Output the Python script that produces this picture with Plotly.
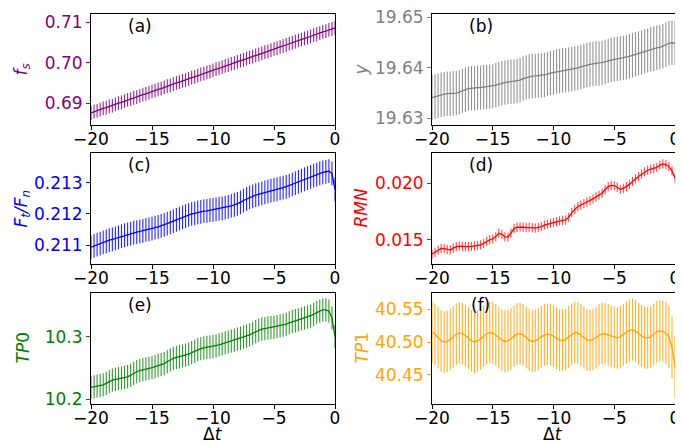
import plotly.graph_objects as go

# ---------------- data ----------------
dt = [-20.0, -19.75, -19.5, -19.25, -19.0, -18.75, -18.5, -18.25,
      -18.0, -17.75, -17.5, -17.25, -17.0, -16.75, -16.5, -16.25,
      -16.0, -15.75, -15.5, -15.25, -15.0, -14.75, -14.5, -14.25,
      -14.0, -13.75, -13.5, -13.25, -13.0, -12.75, -12.5, -12.25,
      -12.0, -11.75, -11.5, -11.25, -11.0, -10.75, -10.5, -10.25,
      -10.0, -9.75, -9.5, -9.25, -9.0, -8.75, -8.5, -8.25,
      -8.0, -7.75, -7.5, -7.25, -7.0, -6.75, -6.5, -6.25,
      -6.0, -5.75, -5.5, -5.25, -5.0, -4.75, -4.5, -4.25,
      -4.0, -3.75, -3.5, -3.25, -3.0, -2.75, -2.5, -2.25,
      -2.0, -1.75, -1.5, -1.25, -1.0, -0.75, -0.5, -0.25, 0.0]

fs = [0.6876, 0.6879, 0.6881, 0.6884, 0.6887, 0.6889, 0.6892, 0.6894,
      0.6897, 0.6900, 0.6902, 0.6905, 0.6908, 0.6910, 0.6913, 0.6915,
      0.6918, 0.6921, 0.6923, 0.6926, 0.6929, 0.6931, 0.6934, 0.6936,
      0.6939, 0.6942, 0.6944, 0.6947, 0.6950, 0.6952, 0.6955, 0.6957,
      0.6960, 0.6963, 0.6965, 0.6968, 0.6971, 0.6973, 0.6976, 0.6978,
      0.6981, 0.6984, 0.6986, 0.6989, 0.6992, 0.6994, 0.6997, 0.6999,
      0.7002, 0.7005, 0.7007, 0.7010, 0.7013, 0.7015, 0.7018, 0.7020,
      0.7023, 0.7026, 0.7028, 0.7031, 0.7034, 0.7036, 0.7039, 0.7041,
      0.7044, 0.7047, 0.7049, 0.7052, 0.7055, 0.7057, 0.7060, 0.7062,
      0.7065, 0.7068, 0.7070, 0.7073, 0.7076, 0.7078, 0.7081, 0.7083, 0.7086]

yv = [19.6341, 19.6343, 19.6345, 19.6347, 19.6348, 19.6349, 19.6349, 19.6350,
      19.6350, 19.6352, 19.6355, 19.6357, 19.6359, 19.6360, 19.6360, 19.6361,
      19.6361, 19.6362, 19.6362, 19.6363, 19.6364, 19.6366, 19.6368, 19.6370,
      19.6371, 19.6372, 19.6373, 19.6373, 19.6374, 19.6376, 19.6379, 19.6381,
      19.6383, 19.6384, 19.6384, 19.6385, 19.6385, 19.6386, 19.6388, 19.6390,
      19.6391, 19.6393, 19.6394, 19.6395, 19.6396, 19.6397, 19.6398, 19.6399,
      19.6400, 19.6402, 19.6404, 19.6406, 19.6407, 19.6408, 19.6409, 19.6409,
      19.6410, 19.6412, 19.6414, 19.6416, 19.6417, 19.6418, 19.6419, 19.6420,
      19.6421, 19.6423, 19.6425, 19.6427, 19.6429, 19.6431, 19.6433, 19.6435,
      19.6437, 19.6438, 19.6440, 19.6441, 19.6443, 19.6446, 19.6449, 19.6450, 19.6449]

ftfn = [0.21094, 0.21098, 0.21102, 0.21105, 0.21109, 0.21112, 0.21116, 0.21119,
        0.21122, 0.21125, 0.21129, 0.21132, 0.21135, 0.21137, 0.21140, 0.21142,
        0.21144, 0.21146, 0.21149, 0.21151, 0.21153, 0.21156, 0.21159, 0.21162,
        0.21165, 0.21169, 0.21173, 0.21177, 0.21181, 0.21185, 0.21189, 0.21193,
        0.21197, 0.21200, 0.21202, 0.21205, 0.21207, 0.21209, 0.21210, 0.21212,
        0.21213, 0.21215, 0.21217, 0.21218, 0.21220, 0.21223, 0.21226, 0.21229,
        0.21232, 0.21237, 0.21243, 0.21248, 0.21253, 0.21256, 0.21260, 0.21263,
        0.21266, 0.21269, 0.21272, 0.21275, 0.21277, 0.21279, 0.21282, 0.21284,
        0.21287, 0.21291, 0.21295, 0.21299, 0.21303, 0.21307, 0.21311, 0.21315,
        0.21319, 0.21323, 0.21326, 0.21330, 0.21333, 0.21335, 0.21337, 0.21330, 0.21278]

rmn = [0.01376, 0.01390, 0.01410, 0.01425, 0.01424, 0.01415, 0.01412, 0.01428,
       0.01441, 0.01445, 0.01443, 0.01440, 0.01441, 0.01443, 0.01447, 0.01450,
       0.01456, 0.01470, 0.01490, 0.01502, 0.01509, 0.01530, 0.01560, 0.01550,
       0.01528, 0.01525, 0.01560, 0.01600, 0.01612, 0.01615, 0.01612, 0.01610,
       0.01612, 0.01608, 0.01605, 0.01610, 0.01618, 0.01630, 0.01640, 0.01648,
       0.01653, 0.01660, 0.01668, 0.01672, 0.01676, 0.01700, 0.01741, 0.01770,
       0.01794, 0.01808, 0.01820, 0.01835, 0.01847, 0.01862, 0.01880, 0.01896,
       0.01912, 0.01945, 0.01971, 0.01982, 0.01980, 0.01965, 0.01947, 0.01955,
       0.01971, 0.01990, 0.02015, 0.02040, 0.02059, 0.02080, 0.02100, 0.02115,
       0.02124, 0.02130, 0.02140, 0.02160, 0.02171, 0.02165, 0.02147, 0.02110, 0.02044]

tp0 = [10.2190, 10.2200, 10.2210, 10.2220, 10.2230, 10.2255, 10.2285, 10.2305,
       10.2320, 10.2330, 10.2340, 10.2350, 10.2360, 10.2385, 10.2415, 10.2440,
       10.2460, 10.2475, 10.2485, 10.2495, 10.2505, 10.2520, 10.2540, 10.2555,
       10.2570, 10.2600, 10.2630, 10.2655, 10.2670, 10.2680, 10.2695, 10.2705,
       10.2720, 10.2745, 10.2770, 10.2795, 10.2810, 10.2820, 10.2830, 10.2835,
       10.2840, 10.2855, 10.2870, 10.2885, 10.2900, 10.2915, 10.2930, 10.2945,
       10.2960, 10.2975, 10.2995, 10.3010, 10.3030, 10.3055, 10.3080, 10.3105,
       10.3120, 10.3130, 10.3140, 10.3145, 10.3150, 10.3160, 10.3175, 10.3185,
       10.3200, 10.3220, 10.3240, 10.3255, 10.3270, 10.3285, 10.3300, 10.3315,
       10.3330, 10.3355, 10.3385, 10.3410, 10.3430, 10.3430, 10.3410, 10.3300, 10.3000]

tp1 = [40.5150, 40.5120, 40.5070, 40.5020, 40.5000, 40.5010, 40.5040, 40.5080,
       40.5120, 40.5140, 40.5130, 40.5100, 40.5060, 40.5020, 40.5000, 40.5020,
       40.5050, 40.5090, 40.5130, 40.5145, 40.5140, 40.5110, 40.5070, 40.5030,
       40.5010, 40.5020, 40.5050, 40.5090, 40.5125, 40.5130, 40.5110, 40.5070,
       40.5030, 40.5010, 40.5020, 40.5050, 40.5080, 40.5110, 40.5120, 40.5115,
       40.5090, 40.5060, 40.5030, 40.5025, 40.5040, 40.5080, 40.5120, 40.5145,
       40.5140, 40.5110, 40.5070, 40.5035, 40.5025, 40.5040, 40.5070, 40.5110,
       40.5130, 40.5125, 40.5110, 40.5085, 40.5070, 40.5065, 40.5080, 40.5110,
       40.5150, 40.5180, 40.5190, 40.5170, 40.5130, 40.5090, 40.5070, 40.5065,
       40.5080, 40.5120, 40.5160, 40.5170, 40.5165, 40.5140, 40.5080, 40.4920, 40.4620]

err_fs = 0.0017
err_y = 0.0044
err_ftfn = 0.00038
err_rmn = 0.00041
err_tp0 = 0.0186
err_tp1 = 0.047

panel_labels = ["(a)", "(b)", "(c)", "(d)", "(e)", "(f)"]
ylabels = ["<i>f</i><sub><i>s</i></sub>", "<i>y</i>",
           "<i>F</i><sub><i>t</i></sub><i>/F</i><sub><i>n</i></sub>", "<i>RMN</i>",
           "<i>TP</i>0", "<i>TP</i>1"]
xlabel = "Δ<i>t</i>"
xticks = [-20, -15, -10, -5, 0]
yticks = [[0.69, 0.70, 0.71], [19.63, 19.64, 19.65], [0.211, 0.212, 0.213],
          [0.015, 0.020], [10.2, 10.3], [40.45, 40.50, 40.55]]

# ---------------- styling / layout ----------------
OFF = 8                       # page body margin of the browser
W, H = 683 - OFF, 443 - OFF
colors = ["#800080", "#808080", "#0000ff", "#ff0000", "#008000", "#ffa500"]
ecolors = ["rgba(128,0,128,0.85)", "rgba(128,128,128,0.85)", "rgba(0,0,255,0.85)",
           "rgba(255,0,0,0.7)", "rgba(0,128,0,0.8)", "rgba(255,165,0,0.85)"]
yranges = [[0.6846, 0.7120], [19.6287, 19.6507], [0.21040, 0.21395],
           [0.01288, 0.02267], [10.1925, 10.3698], [40.4058, 40.5748]]
yfmt = [".2f", ".2f", ".3f", ".3f", ".1f", ".2f"]


def px(v):
    return (v - OFF) / W


def py(v):
    return 1 - (v - OFF) / H


xdom = [[px(91), px(335)], [px(432), px(675)]]
ypix = [(14, 125), (153, 264), (293, 404)]
ydom = [[py(b), py(t)] for t, b in ypix]

series = [fs, yv, ftfn, rmn, tp0, tp1]
errs = [err_fs, err_y, err_ftfn, err_rmn, err_tp0, err_tp1]

FONT = "DejaVu Sans"
FS = 17

fig = go.Figure()
annotations = []
layout = dict(width=W, height=H, margin=dict(l=0, r=0, t=0, b=0, autoexpand=False),
              template="none",
              paper_bgcolor="white", plot_bgcolor="white", showlegend=False,
              font=dict(family=FONT, size=FS, color="black"))

for i in range(6):
    r, c = divmod(i, 2)
    n = i + 1
    xa = "x" if n == 1 else f"x{n}"
    ya = "y" if n == 1 else f"y{n}"
    fig.add_trace(go.Scatter(
        x=dt, y=series[i], mode="lines", xaxis=xa, yaxis=ya,
        line=dict(color=colors[i], width=1.3),
        error_y=dict(type="constant", value=errs[i], color=ecolors[i],
                     thickness=1.1, width=0),
    ))
    layout[f"xaxis{'' if n == 1 else n}"] = dict(
        domain=xdom[c], anchor=ya, range=[-20, 0], tickvals=xticks, automargin=False,
        showgrid=False, zeroline=False, showline=True, linecolor="black",
        linewidth=1, mirror=True, ticks="outside", ticklen=4, tickcolor="black",
        ticklabelstandoff=-5, ticklabeloverflow="allow",
        tickfont=dict(family=FONT, size=FS, color="black"),
    )
    layout[f"yaxis{'' if n == 1 else n}"] = dict(
        domain=ydom[r], anchor=xa, range=yranges[i], tickvals=yticks[i], automargin=False,
        tickformat=yfmt[i], showgrid=False, zeroline=False, showline=True,
        linecolor="black", linewidth=1, mirror=True, ticks="outside", ticklen=4,
        ticklabeloverflow="allow",
        tickcolor=colors[i], tickfont=dict(family=FONT, size=FS, color=colors[i]),
    )
    # panel label
    annotations.append(dict(text=panel_labels[i], xref=f"{xa} domain", yref=f"{ya} domain",
                            x=0.2, y=0.89, xanchor="center", yanchor="middle",
                            showarrow=False,
                            font=dict(family=FONT, size=FS, color="black")))
    # y-axis title
    ycen = (ydom[r][0] + ydom[r][1]) / 2
    xt = px(22) if c == 0 else px(361)
    annotations.append(dict(text=ylabels[i], xref="paper", yref="paper", x=xt, y=ycen,
                            xanchor="center", yanchor="middle",
                            textangle=-90, showarrow=False,
                            font=dict(family=FONT, size=FS, color=colors[i])))

for c in range(2):
    annotations.append(dict(text=xlabel, xref="paper", yref="paper",
                            x=(xdom[c][0] + xdom[c][1]) / 2, y=py(434),
                            xanchor="center", yanchor="middle",
                            showarrow=False, font=dict(family=FONT, size=FS, color="black")))

layout["annotations"] = annotations
fig.update_layout(**layout)
fig.write_html("out.html")
